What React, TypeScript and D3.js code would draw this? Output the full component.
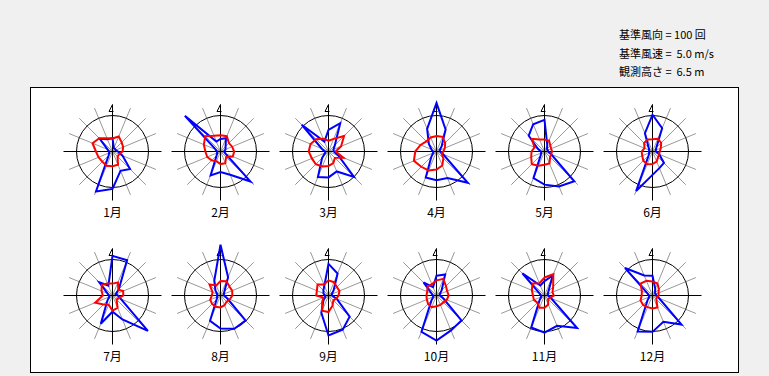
import React from "react";
import * as d3 from "d3";

const months = ["1月", "2月", "3月", "4月", "5月", "6月", "7月", "8月", "9月", "10月", "11月", "12月"];
// 16 directions, clockwise from N
const directions = ["N", "NNE", "NE", "ENE", "E", "ESE", "SE", "SSE", "S", "SSW", "SW", "WSW", "W", "WNW", "NW", "NNW"];

// wind direction frequency (回), reference circle = 100
const freqData: number[][] = [
  [37, 10, 10, 10, 15, 30, 69, 58, 104, 120, 15, 10, 10, 15, 50, 37],
  [35, 40, 20, 15, 10, 15, 118, 70, 57, 72, 15, 10, 10, 15, 140, 30],
  [60, 85, 25, 15, 15, 30, 100, 60, 72, 77, 25, 10, 10, 20, 105, 30],
  [135, 66, 20, 10, 10, 20, 123, 80, 80, 78, 20, 10, 10, 15, 30, 68],
  [88, 20, 10, 10, 10, 20, 117, 105, 92, 80, 15, 10, 10, 20, 62, 82],
  [102, 70, 15, 10, 10, 20, 45, 50, 65, 119, 15, 10, 10, 10, 15, 55],
  [110, 106, 25, 10, 15, 25, 139, 72, 45, 85, 20, 10, 10, 15, 52, 30],
  [141, 55, 15, 10, 10, 20, 98, 100, 92, 76, 15, 10, 10, 10, 20, 45],
  [88, 66, 20, 10, 10, 25, 83, 103, 111, 52, 20, 10, 10, 15, 20, 30],
  [55, 63, 20, 10, 10, 20, 98, 105, 125, 109, 20, 10, 10, 15, 51, 25],
  [40, 60, 15, 10, 10, 20, 128, 91, 103, 96, 20, 10, 10, 15, 87, 30],
  [55, 20, 10, 10, 10, 20, 114, 79, 101, 108, 20, 10, 10, 15, 108, 60],
];

// mean wind speed (m/s), reference circle = 5.0
const speedData: number[][] = [
  [1.8, 2.25, 1.8, 1.6, 1.4, 1.0, 1.0, 2.0, 2.05, 2.15, 2.0, 2.1, 2.3, 3.0, 2.6, 2.0],
  [2.25, 2.3, 1.65, 1.75, 1.9, 1.85, 1.1, 1.75, 1.75, 1.45, 1.75, 2.0, 2.1, 2.5, 3.0, 2.35],
  [1.5, 1.9, 3.05, 1.9, 1.0, 2.25, 1.25, 1.75, 2.0, 2.25, 2.5, 2.5, 2.75, 2.7, 2.4, 1.9],
  [2.15, 2.2, 1.7, 1.25, 0.95, 0.75, 1.35, 2.1, 2.5, 2.85, 3.0, 3.4, 2.95, 2.4, 2.0, 2.1],
  [1.65, 1.65, 1.15, 1.0, 1.05, 1.0, 1.1, 1.8, 1.85, 2.15, 2.5, 2.0, 1.8, 1.5, 2.5, 1.8],
  [1.7, 1.9, 1.7, 1.25, 1.0, 1.0, 1.1, 1.5, 1.75, 1.9, 1.8, 1.55, 1.5, 1.2, 1.65, 1.8],
  [1.65, 1.95, 1.15, 1.6, 1.5, 0.95, 0.8, 1.85, 2.1, 1.4, 1.75, 2.6, 1.35, 1.65, 2.1, 1.8],
  [2.0, 2.15, 1.75, 1.75, 1.65, 1.4, 1.2, 1.45, 1.65, 1.7, 1.65, 1.55, 1.2, 1.2, 2.15, 1.5],
  [2.1, 2.0, 1.65, 1.65, 1.4, 1.15, 0.95, 1.5, 2.3, 2.3, 1.25, 0.75, 1.7, 1.75, 2.15, 1.65],
  [2.1, 2.5, 1.85, 1.6, 1.7, 1.55, 1.35, 1.4, 1.5, 1.75, 1.65, 1.45, 1.4, 1.4, 1.75, 1.7],
  [2.5, 3.2, 1.7, 1.2, 1.3, 0.85, 0.7, 1.35, 1.7, 1.85, 1.4, 1.6, 1.6, 1.9, 2.35, 1.85],
  [1.95, 1.8, 1.25, 0.9, 0.85, 0.65, 0.75, 1.8, 1.8, 1.75, 1.85, 1.8, 1.5, 1.6, 2.35, 2.2],
];

const refFreq = 100;
const refSpeed = 5.0;
const infoLines = ["基準風向 = 100 回", "基準風速 =  5.0 m/s", "観測高さ =  6.5 m"];

const W = 769;
const H = 376;
const R = 36; // reference circle radius
const AXIS = 49;
const SPOKE = 47;

const FONT = "'Noto Sans CJK JP', 'Noto Sans', sans-serif";

export default function App() {
  const xCol = d3.scaleLinear().domain([0, 5]).range([112, 652]);
  const yRow = d3.scaleLinear().domain([0, 1]).range([151, 295]);
  const angle = d3.scaleLinear().domain([0, 16]).range([0, 2 * Math.PI]);
  const rFreq = d3.scaleLinear().domain([0, refFreq]).range([0, R]);
  const rSpeed = d3.scaleLinear().domain([0, refSpeed]).range([0, R]);

  const freqLine = d3
    .lineRadial<number>()
    .angle((_, i) => angle(i))
    .radius((d) => rFreq(d))
    .curve(d3.curveLinearClosed);
  const speedLine = d3
    .lineRadial<number>()
    .angle((_, i) => angle(i))
    .radius((d) => rSpeed(d))
    .curve(d3.curveLinearClosed);

  return (
    <svg
      width={W}
      height={H}
      style={{ position: "absolute", left: 0, top: 0, background: "#f0f0f0" }}
    >
      <rect x={0} y={0} width={W} height={H} fill="#f0f0f0" />
      {infoLines.map((t, i) => (
        <text
          key={i}
          x={619}
          y={39 + i * 18.5}
          fontFamily={FONT}
          fontSize={11}
          fill="#000"
          xmlSpace="preserve"
          style={{ whiteSpace: "pre" }}
        >
          {t}
        </text>
      ))}
      <rect x={30.5} y={87.5} width={708} height={285} fill="#fff" stroke="#000" strokeWidth={1} />
      {months.map((m, k) => {
        const cx = Math.round(xCol(k % 6)) + 0.5;
        const cy = Math.round(yRow(Math.floor(k / 6))) + 0.5;
        return (
          <g key={m} transform={`translate(${cx},${cy})`}>
            {directions.map((d, i) =>
              i % 4 === 0 ? null : (
                <line
                  key={d}
                  x1={0}
                  y1={0}
                  x2={SPOKE * Math.sin(angle(i))}
                  y2={-SPOKE * Math.cos(angle(i))}
                  stroke="#999"
                  strokeWidth={1}
                />
              )
            )}
            <line x1={-AXIS} y1={0} x2={AXIS} y2={0} stroke="#000" strokeWidth={1} />
            <line x1={0} y1={-AXIS + 2} x2={0} y2={AXIS} stroke="#000" strokeWidth={1} />
            <path
              d={`M0,${-AXIS + 2} L-3.5,${-AXIS + 9} L1,${-AXIS + 9}`}
              fill="none"
              stroke="#000"
              strokeWidth={1}
            />
            <circle r={R} fill="none" stroke="#000" strokeWidth={1} />
            <path d={freqLine(freqData[k]) || ""} fill="none" stroke="#0000ff" strokeWidth={2} strokeLinejoin="miter" />
            <path d={speedLine(speedData[k]) || ""} fill="none" stroke="#ff0000" strokeWidth={2} strokeLinejoin="miter" />
            <text
              x={0}
              y={AXIS + 16}
              textAnchor="middle"
              fontFamily={FONT}
              fontSize={12}
              fill="#000"
            >
              {m}
            </text>
          </g>
        );
      })}
    </svg>
  );
}
